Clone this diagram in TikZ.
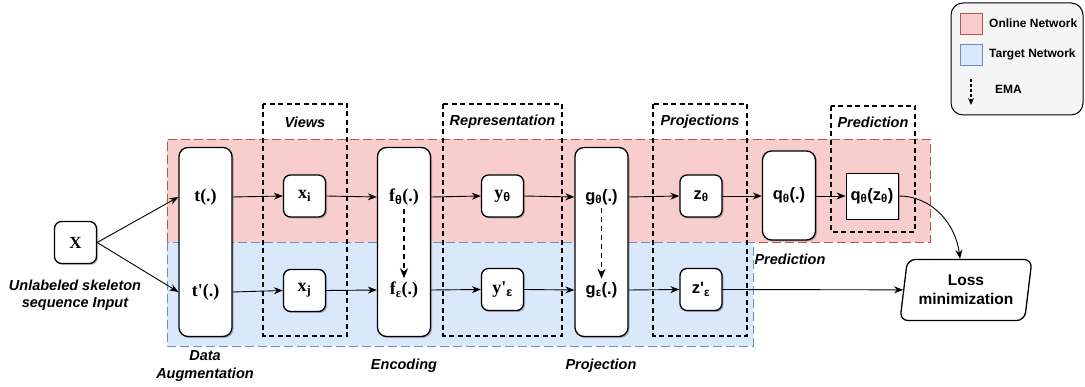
\documentclass[tikz,border=0pt]{standalone}
\usepackage{fontspec}
\setmainfont{Liberation Serif}[Ligatures=TeXOff]
\setsansfont{Liberation Sans}[Ligatures=TeXOff]
\usetikzlibrary{arrows.meta,shapes.geometric,shadows}
\definecolor{pinkf}{HTML}{F8CECC}
\definecolor{pinkd}{HTML}{B85450}
\definecolor{bluef}{HTML}{DAE8FC}
\definecolor{blued}{HTML}{6C8EBF}
\begin{document}
\begin{tikzpicture}[x=1pt,y=-1pt,
  shad/.style={drop shadow={shadow xshift=1.5pt,shadow yshift=-1.5pt,opacity=0.25,fill=black}},
  box/.style={draw,line width=1.3pt,rounded corners=7pt,fill=white,minimum width=42pt,minimum height=42pt,inner sep=0pt,shad},
  bigbox/.style={draw,line width=1.3pt,rounded corners=9pt,fill=white,minimum width=53pt,minimum height=189pt,inner sep=0pt,shad},
  sbold/.style={font=\fontsize{18}{20}\selectfont\bfseries},
  ssans/.style={font=\fontsize{16.5}{19}\selectfont\sffamily\bfseries},
  lab/.style={font=\fontsize{14.5}{17}\selectfont\sffamily\bfseries\itshape,align=center},
  leg/.style={font=\fontsize{12}{14}\selectfont\sffamily\bfseries,anchor=west,inner sep=0pt},
  dbox/.style={draw,line width=1.4pt,dash pattern=on 5pt off 3.5pt},
  conn/.style={line width=0.9pt,-{Stealth[length=9pt,width=7pt]}},
  ema/.style={line width=1.5pt,dash pattern=on 5pt off 4pt,-{Stealth[length=10pt,width=8pt]}},
  legsq/.style={draw,line width=0.9pt,minimum width=22pt,minimum height=21pt,inner sep=0pt}
]
\useasboundingbox (0,0) rectangle (1085,387);
% bands
\fill[pinkf] (167,139) rectangle (930,242);
\fill[bluef] (167,242) rectangle (753,346);
\draw[pinkd,line width=0.9pt,dash pattern=on 9pt off 4pt] (167,242) -- (167,139) -- (930,139) -- (930,242) -- (753,242);
\draw[blued,line width=0.9pt,dash pattern=on 9pt off 4pt] (167,242) -- (167,346) -- (753,346) -- (753,242) -- (167,242);
% dashed groups
\draw[dbox] (263,104) rectangle (347,336);
\draw[dbox] (443,104) rectangle (562,336);
\draw[dbox] (653,104) rectangle (747,336);
\draw[dbox] (831,106) rectangle (915,232);
\node[lab] (lviews) at (305,122) {Views};
\node[lab] (lrep) at (502.5,122) {Representation};
\node[lab] (lproj) at (700,122) {Projections};
\node[lab] (lpred) at (873,122) {Prediction};
% legend
\draw[line width=1pt,rounded corners=12pt,fill=gray!8] (951,3) rectangle (1083,115);
\node[legsq,fill=pinkf,draw=pinkd] (lp) at (971,23.5) {};
\node[legsq,fill=bluef,draw=blued] (lb) at (971,54.5) {};
\node[leg] (lon) at (989,23) {Online Network};
\node[leg] (lta) at (989,54) {Target Network};
\coordinate (ema1) at (971,79);
\coordinate (ema2) at (971,105);
\draw[line width=1.2pt,dash pattern=on 3pt off 2pt,-{Stealth[length=7pt,width=6pt]}] (ema1) -- (ema2);
\node[leg] (lema) at (995,89) {EMA};
% nodes
\node[box] (X) at (75.5,242.5) {\fontsize{17}{19}\selectfont\bfseries X};
\node[lab] (lin) at (75,295) {Unlabeled skeleton\\sequence Input};
\node[bigbox] (T) at (205.5,242) {};
\node[sbold] (t1) at (205.5,197) {t(.)};
\node[sbold] (t2) at (205.5,292) {t'(.)};
\node[lab] (lda) at (205,366) {Data\\[1pt]Augmentation};
\node[box,sbold] (xi) at (304.5,196) {x\textsubscript{i}};
\node[box,sbold] (xj) at (304.5,290.5) {x\textsubscript{j}};
\node[bigbox] (F) at (404,242) {};
\node[sbold] (f1) at (404,197) {f\textsubscript{\sffamily θ}(.)};
\node[sbold] (f2) at (404,290) {f\textsubscript{ε}(.)};
\node[lab] (lenc) at (404,366) {Encoding};
\node[box,sbold] (yt) at (502.5,196) {y\textsubscript{\sffamily θ}};
\node[box,sbold] (ye) at (502.5,289.5) {y'\textsubscript{\sffamily ε}};
\node[bigbox] (G) at (601.5,242) {};
\node[ssans] (g1) at (601.5,197) {g\textsubscript{θ}(.)};
\node[ssans] (g2) at (601.5,290) {g\textsubscript{ε}(.)};
\node[lab] (lpj) at (601,366) {Projection};
\node[box,ssans] (zt) at (701,196) {z\textsubscript{θ}};
\node[box,ssans] (ze) at (701,289.5) {z'\textsubscript{ε}};
\node[bigbox,ssans,minimum height=89pt] (Q) at (789,195.5) {q\textsubscript{θ}(.)};
\node[lab] (lpq) at (790,259) {Prediction};
\node[draw,line width=0.9pt,fill=white,minimum width=52pt,minimum height=46pt,inner sep=0pt,shad,ssans] (qz) at (872,196) {q\textsubscript{θ}(z\textsubscript{θ})};
\node[trapezium,trapezium left angle=76,trapezium right angle=104,trapezium stretches body,draw,line width=1.3pt,rounded corners=8pt,fill=white,minimum height=61pt,minimum width=132pt,inner sep=0pt,align=center,font=\fontsize{15.5}{19}\selectfont\sffamily\bfseries] (loss) at (966,290) {Loss\\minimization};
% connectors
\draw[conn] (X.east) -- (t1 -| T.west);
\draw[conn] (X.east) -- (t2 -| T.west);
\draw[conn] (t1 -| T.east) -- (xi.west);
\draw[conn] (t2 -| T.east) -- (xj.west);
\draw[conn] (xi.east) -- (f1 -| F.west);
\draw[conn] (xj.east) -- (f2 -| F.west);
\draw[conn] (f1 -| F.east) -- (yt.west);
\draw[conn] (f2 -| F.east) -- (ye.west);
\draw[conn] (yt.east) -- (g1 -| G.west);
\draw[conn] (ye.east) -- (g2 -| G.west);
\draw[conn] (g1 -| G.east) -- (zt.west);
\draw[conn] (g2 -| G.east) -- (ze.west);
\draw[conn] (zt.east) -- (zt -| Q.west);
\draw[conn] (Q.east |- qz) -- (qz.west);
\draw[conn] (ze.east) -- (loss);
\draw[conn] (qz.east) to[out=0,in=97] ([xshift=-6pt]loss.north);
\draw[ema] (f1.south) -- (f2.north);
\draw[ema] (g1.south) -- (g2.north);
\end{tikzpicture}
\end{document}
